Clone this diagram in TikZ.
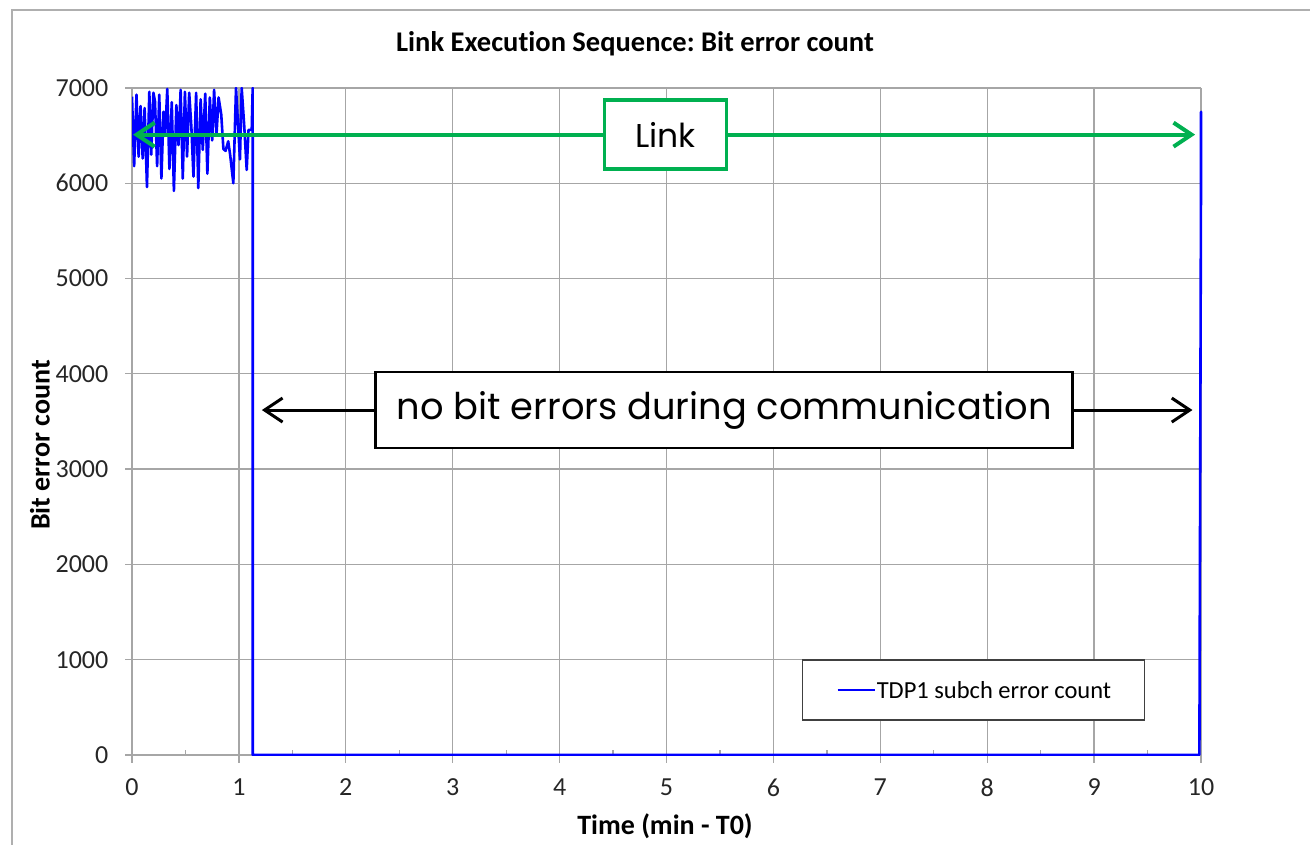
\documentclass[tikz,border=0pt]{standalone}
\usepackage{fontspec}
\setmainfont[Ligatures=NoCommon]{Carlito}
\newfontfamily\gothic{Poppins}
\usetikzlibrary{arrows.meta, positioning, calc}
\frenchspacing

\definecolor{gridgray}{RGB}{166,166,166}
\definecolor{framegray}{RGB}{175,175,175}
\definecolor{linkgreen}{RGB}{0,176,80}
\definecolor{seriesblue}{RGB}{0,0,255}
\definecolor{boxgray}{RGB}{64,64,64}

\begin{document}
\begin{tikzpicture}[x=1pt,y=-1pt,
  gridline/.style={gridgray, line width=1.3pt},
  series/.style={seriesblue, line width=2.6pt, line join=round},
  ticklabel/.style={font=\fontsize{26}{30}\selectfont, text=black!85, inner sep=0pt},
  axislabel/.style={font=\fontsize{28}{32}\selectfont\bfseries, inner sep=0pt},
  linkbox/.style={draw=linkgreen, line width=3.5pt, fill=white, minimum width=122pt, minimum height=69pt, inner sep=0pt, font=\gothic\fontsize{33}{38}\selectfont},
  notebox/.style={draw=black, line width=2.5pt, fill=white, minimum width=697pt, minimum height=76pt, inner sep=0pt, font=\gothic\fontsize{36.8}{42}\selectfont},
  legendbox/.style={draw=boxgray, line width=1.5pt, fill=white, minimum width=342pt, minimum height=60pt, inner sep=0pt},
  spanarrow/.style={line width=3pt, -{Straight Barb[length=18pt, width=24pt]}},
]
\useasboundingbox (0,0) rectangle (1310,844);

% Chart frame
\draw[framegray, line width=1.3pt] (12,850) -- (12,10) -- (1315,10);

% Title
\node[font=\fontsize{28.5}{32}\selectfont\bfseries, inner sep=0pt] (title) at (635,44) {Link Execution Sequence: Bit error count};

\begin{scope}[shift={(132,755)}, x=106.9pt, y=0.09529pt]
  % Grid
  \foreach \xi in {1,...,10}
    \draw[gridline] (\xi,0) -- (\xi,7000);
  \foreach \yi in {1000,2000,...,7000}
    \draw[gridline] (-0.065,\yi) -- (10,\yi);
  \draw[gridline] (0,0) -- (0,7000);
  \draw[gridline] (-0.065,0) -- (10,0);
  % Ticks
  \foreach \xi in {0,...,10}
    \draw[gridline] (\xi,0) -- (\xi,-85);
  \foreach \xi in {0.5,1.5,...,9.5}
    \draw[gridline] (\xi,0) -- (\xi,55);

  % Tick labels
  \foreach \yi in {0,1000,...,7000}
    \node[ticklabel, anchor=east] (y\yi) at (-0.22,\yi) {\yi};
  \foreach \xi in {0,...,10}
    \node[ticklabel] (x\xi) at (\xi,-340) {\xi};

  % Data series
  \begin{scope}
    \clip (0,0) rectangle (10.05,7000);
    \draw[series] plot coordinates {
      (0,6910) (0.02,6180) (0.042,6930) (0.062,6280) (0.08,6810) (0.10,6260)
      (0.118,6790) (0.14,5960) (0.162,6960) (0.18,6300) (0.20,6950) (0.215,6860)
      (0.235,6180) (0.255,6930) (0.275,6050) (0.295,6750) (0.31,6500) (0.33,6990)
      (0.35,6150) (0.372,6850) (0.392,5920) (0.415,6820) (0.435,6400) (0.455,6980)
      (0.475,6050) (0.495,6960) (0.515,6280) (0.535,6950) (0.555,6600) (0.575,6070)
      (0.60,6950) (0.62,5950) (0.642,6880) (0.662,6350) (0.685,6940) (0.705,6100)
      (0.728,6900) (0.75,6450) (0.768,6980) (0.79,6500) (0.81,6900) (0.835,6720)
      (0.855,6360) (0.875,6340) (0.90,6440) (0.918,6300) (0.948,6000) (0.973,7000)
      (1.01,6250) (1.026,7000) (1.05,6600) (1.073,6140) (1.09,6560) (1.12,6560)
      (1.129,7000) (1.13,0)
      (9.985,0) (10,6000) (10,6750) (10,6050)
    };
  \end{scope}

  % Link span
  \node[linkbox] (link) at (4.99,6510) {Link};
  \coordinate (linkL) at (0.01,6510);
  \coordinate (linkR) at (9.945,6510);
  \draw[spanarrow, linkgreen, line width=4pt] (link) -- (linkL);
  \draw[spanarrow, linkgreen, line width=4pt] (link) -- (linkR);

  % Quiet span
  \node[notebox] (quiet) at (5.54,3620) {no bit errors during communication};
  \coordinate (quietL) at (1.215,3620);
  \coordinate (quietR) at (9.92,3620);
  \draw[spanarrow] (quiet) -- (quietL);
  \draw[spanarrow] (quiet) -- (quietR);

  % Legend
  \node[legendbox] (legend) at (7.87,682) {};
\end{scope}

\node[font=\fontsize{24.5}{28}\selectfont, anchor=west, inner sep=2pt] (legtext) at ($(legend.west)+(73,0)$) {TDP1 subch error count};
\draw[series] ($(legend.west)+(36,0)$) -- (legtext.west);

% Axis titles
\node[axislabel] (xlabel) at (665,826) {Time (min - T0)};
\node[axislabel, rotate=90] (ylabel) at (40,445) {Bit error count};
\end{tikzpicture}
\end{document}
